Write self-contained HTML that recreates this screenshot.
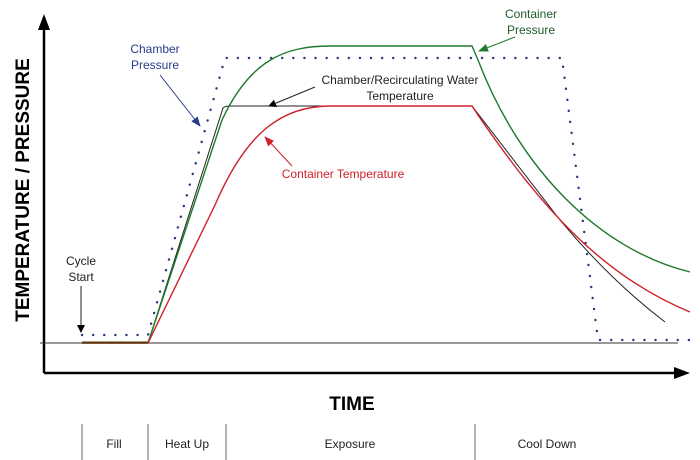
<!DOCTYPE html>
<html><head><meta charset="utf-8"><style>body{margin:0;background:#fff}svg{display:block}</style></head><body>
<svg width="700" height="460" viewBox="0 0 700 460" xmlns="http://www.w3.org/2000/svg" font-family="Liberation Sans, sans-serif">
<defs>
<marker id="ab" markerWidth="8" markerHeight="8" refX="7" refY="4" orient="auto" markerUnits="userSpaceOnUse"><path d="M0,0 L8,4 L0,8z" fill="#000"/></marker>
<marker id="ablue" markerWidth="10" markerHeight="8" refX="9" refY="4" orient="auto" markerUnits="userSpaceOnUse"><path d="M0,0 L10,4 L0,8z" fill="#2a3a8a"/></marker>
<marker id="ared" markerWidth="10" markerHeight="8" refX="9" refY="4" orient="auto" markerUnits="userSpaceOnUse"><path d="M0,0 L10,4 L0,8z" fill="#d0202a"/></marker>
<marker id="agreen" markerWidth="10" markerHeight="8" refX="9" refY="4" orient="auto" markerUnits="userSpaceOnUse"><path d="M0,0 L10,4 L0,8z" fill="#1e7a2a"/></marker>
</defs>
<line x1="44" y1="373" x2="44" y2="28" stroke="#000" stroke-width="2.5"/>
<path d="M38,30 L44,14 L50,30z" fill="#000"/>
<line x1="44" y1="373" x2="676" y2="373" stroke="#000" stroke-width="2.5"/>
<path d="M674,367 L690,373 L674,379z" fill="#000"/>
<line x1="40" y1="343" x2="678" y2="343" stroke="#333" stroke-width="1"/>
<path d="M82,335 L148,335 L225,58 L562,58 L598,340 L690,340" fill="none" stroke="#2a3a7a" stroke-width="2.4" stroke-dasharray="0.1 11" stroke-linecap="round"/>
<path d="M82,343 L148,343 L223,108 Q225,106 230,106 L472,106 L560,220 Q610,280 665,322" fill="none" stroke="#222" stroke-width="1"/>
<path d="M82,343 L148,343 L222,120 C250,60 285,46 330,46 L472,46 L478,60 C520,170 600,250 690,272" fill="none" stroke="#1e7a2a" stroke-width="1.4"/>
<path d="M82,343 L148,343 L215,205 C245,135 280,106 330,106 L472,106 L480,118 C540,205 600,275 690,312" fill="none" stroke="#d0202a" stroke-width="1.4"/>
<path d="M82,342.5 L148,342.5" stroke="#5a3a10" stroke-width="2"/>
<text x="155" y="53" font-size="12" fill="#2a3a8a" text-anchor="middle">Chamber</text>
<text x="155" y="69" font-size="12" fill="#2a3a8a" text-anchor="middle">Pressure</text>
<line x1="160" y1="75" x2="200" y2="126" stroke="#2a3a8a" stroke-width="1" marker-end="url(#ablue)"/>
<text x="400" y="84" font-size="12" fill="#222" text-anchor="middle">Chamber/Recirculating Water</text>
<text x="400" y="100" font-size="12" fill="#222" text-anchor="middle">Temperature</text>
<line x1="315" y1="87" x2="269" y2="106" stroke="#222" stroke-width="1" marker-end="url(#ab)"/>
<text x="343" y="178" font-size="12" fill="#d0202a" text-anchor="middle">Container Temperature</text>
<line x1="292" y1="166" x2="265" y2="137" stroke="#d0202a" stroke-width="1" marker-end="url(#ared)"/>
<text x="531" y="18" font-size="12" fill="#1e5a2a" text-anchor="middle">Container</text>
<text x="531" y="34" font-size="12" fill="#1e5a2a" text-anchor="middle">Pressure</text>
<line x1="515" y1="37" x2="479" y2="51" stroke="#1e7a2a" stroke-width="1" marker-end="url(#agreen)"/>
<text x="81" y="265" font-size="12" fill="#222" text-anchor="middle">Cycle</text>
<text x="81" y="281" font-size="12" fill="#222" text-anchor="middle">Start</text>
<line x1="81" y1="286" x2="81" y2="332" stroke="#222" stroke-width="1" marker-end="url(#ab)"/>
<text x="352" y="410" font-size="19" font-weight="bold" text-anchor="middle">TIME</text>
<text transform="translate(29,190) rotate(-90)" font-size="19" font-weight="bold" text-anchor="middle">TEMPERATURE / PRESSURE</text>
<g stroke="#666" stroke-width="1"><line x1="82" y1="424" x2="82" y2="460"/><line x1="148" y1="424" x2="148" y2="460"/><line x1="226" y1="424" x2="226" y2="460"/><line x1="475" y1="424" x2="475" y2="460"/></g>
<g font-size="12" fill="#222" text-anchor="middle"><text x="114" y="448">Fill</text><text x="187" y="448">Heat Up</text><text x="350" y="448">Exposure</text><text x="547" y="448">Cool Down</text></g>
</svg>
</body></html>
